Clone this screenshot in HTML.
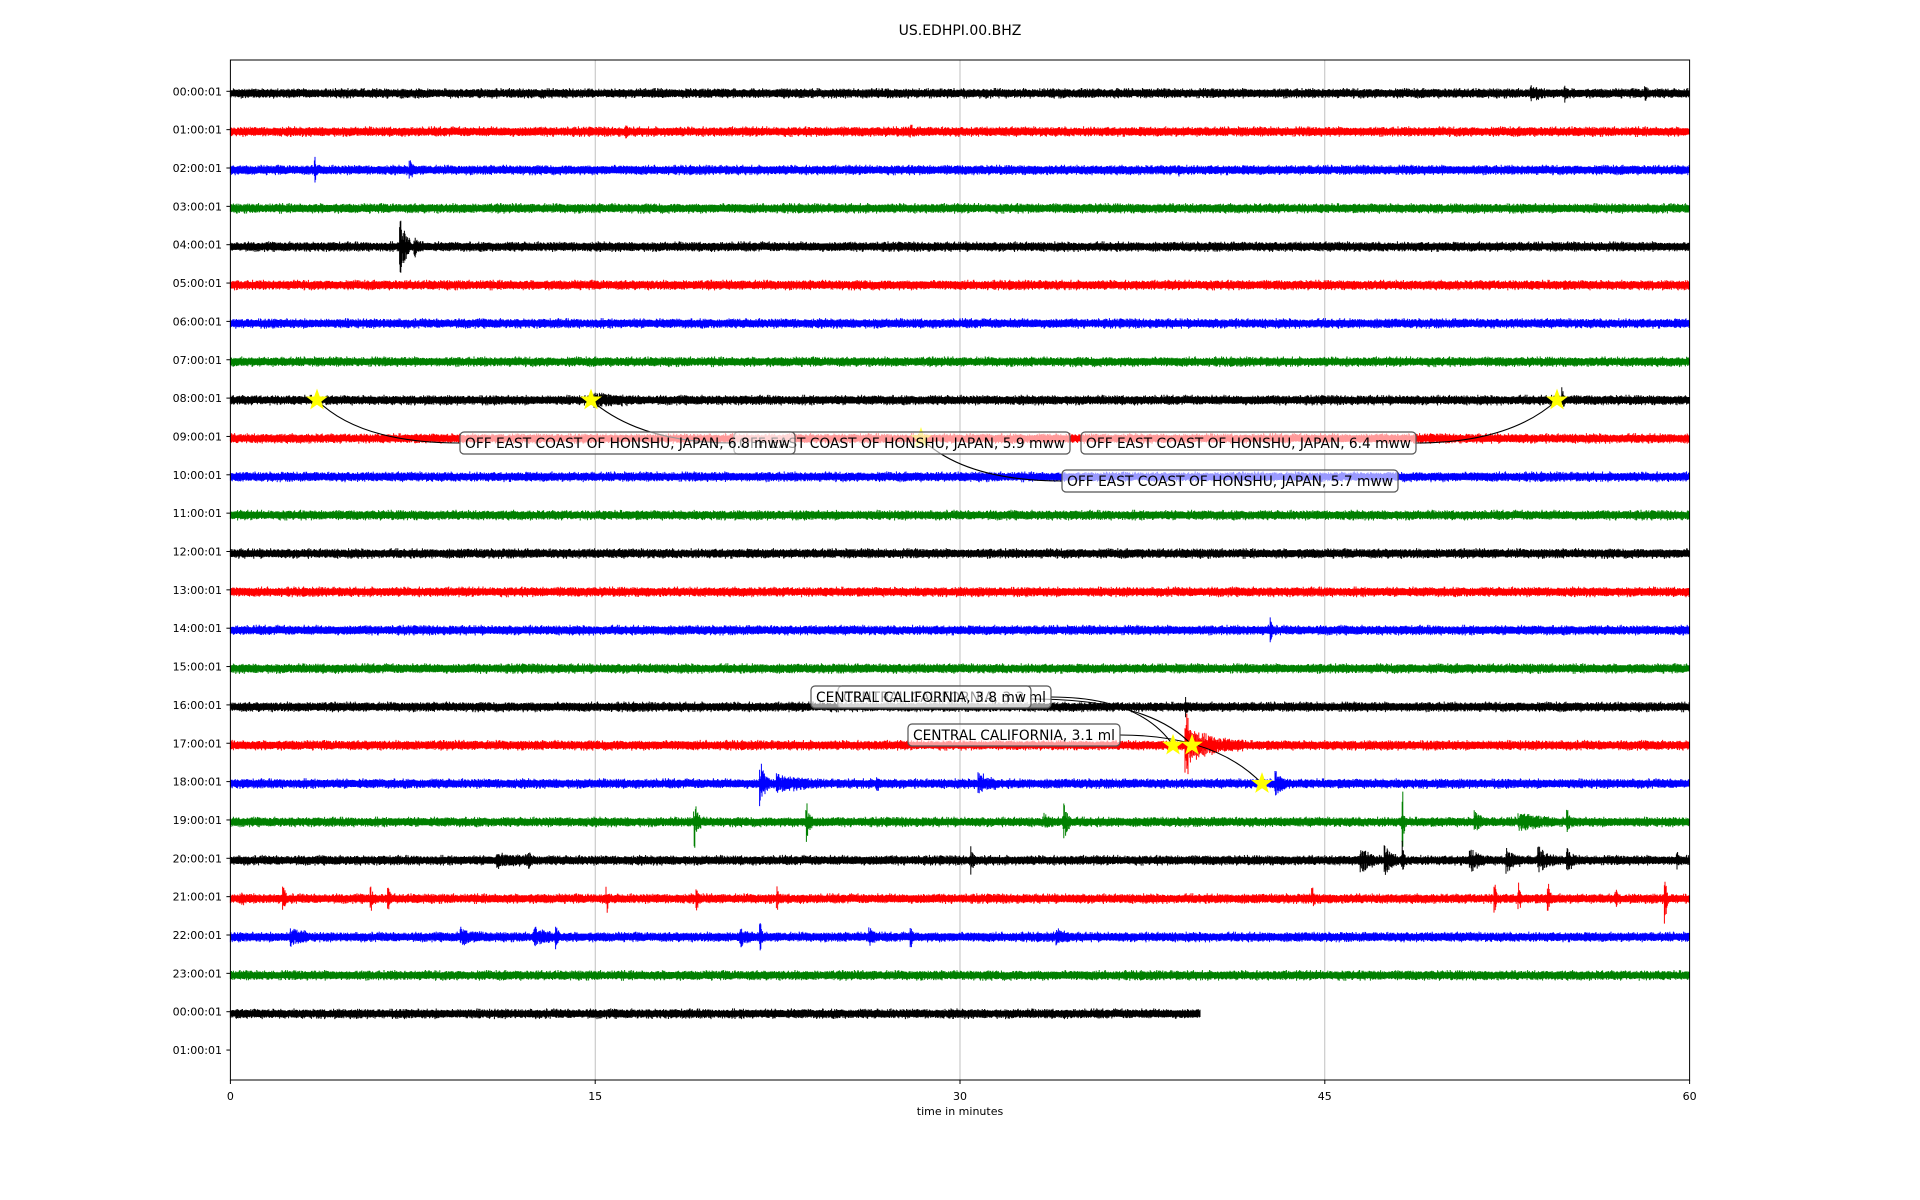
<!DOCTYPE html>
<html><head><meta charset="utf-8"><style>
html,body{margin:0;padding:0;background:#fff;width:1920px;height:1200px;overflow:hidden}
svg{display:block}
text{font-family:"DejaVu Sans","Liberation Sans",sans-serif}
</style></head><body>
<svg id="s" width="1920" height="1200" viewBox="0 0 1920 1200" xmlns="http://www.w3.org/2000/svg">
<rect x="0" y="0" width="1920" height="1200" fill="#fff"/>
<g id="grid" stroke="#b0b0b0" stroke-width="0.8">
<line x1="595.2" y1="60" x2="595.2" y2="1080"/>
<line x1="960" y1="60" x2="960" y2="1080"/>
<line x1="1324.8" y1="60" x2="1324.8" y2="1080"/>
</g>
<g id="traces"></g>
<g id="ann"></g>
<rect x="230.4" y="60" width="1459.2" height="1020" fill="none" stroke="#000" stroke-width="1"/>
<g id="ticks" font-size="11"></g>
<text x="960" y="35" font-size="14" text-anchor="middle">US.EDHPI.00.BHZ</text>
<text x="960" y="1115" font-size="11" text-anchor="middle">time in minutes</text>
</svg>
<script>
var NS="http://www.w3.org/2000/svg";
function el(n,a,p,t){var e=document.createElementNS(NS,n);for(var k in a)e.setAttribute(k,a[k]);if(t!=null)e.textContent=t;p.appendChild(e);return e;}
var seed=12345;function rnd(){seed=(seed*1103515245+12345)%2147483648;return seed/2147483648;}
function gau(){var u=rnd()||1e-6,v=rnd();return Math.sqrt(-2*Math.log(u))*Math.cos(2*Math.PI*v);}
var X0=230.4,W=1459.2,PPM=W/60;
function rowY(i){return 91.3+38.35*i;}
var cols=["#000","#f00","#00f","#008000"];
var labels=[];
for(var i=0;i<26;i++){var h=i%24;labels.push((h<10?"0":"")+h+":00:01");}
var ev=[
[0,53.5,6,0.4],[0,54.9,7,0.05],[0,58.2,6,0.05],
[1,16.3,4,0.05],[1,28.0,5,0.05],
[2,3.5,12,0.05],[2,7.4,7,0.15],[2,39.0,4,0.05],
[4,7.0,32,0.35],[4,7.6,8,0.3],
[8,15.0,5,1.5],[8,54.8,10,0.05],
[14,42.8,10,0.05],
[16,39.3,8,0.05],
[17,39.3,38,0.4],[17,39.6,14,2.0],
[18,21.8,22,0.3],[18,22.5,8,1.2],[18,30.8,10,0.6],[18,43.0,12,0.4],[18,26.6,5,0.1],
[19,19.1,24,0.2],[19,23.7,20,0.2],[19,34.3,20,0.2],[19,33.5,7,0.2],[19,48.2,36,0.05],[19,51.2,10,0.3],[19,53,7,1.5],[19,55,10,0.1],
[20,11,5,1.5],[20,12.3,8,0.05],[20,30.5,16,0.05],[20,46.5,14,0.5],[20,47.5,14,0.4],[20,48.2,20,0.05],[20,51,12,0.5],[20,52.5,12,0.5],[20,53.8,13,0.6],[20,55,10,0.3],[20,59.5,8,0.05],
[21,0.5,8,0.05],[21,2.2,14,0.05],[21,5.8,10,0.05],[21,6.5,14,0.05],[21,15.5,14,0.05],[21,19.2,10,0.05],[21,22.5,12,0.05],[21,44.5,10,0.05],[21,52,14,0.05],[21,53,16,0.05],[21,54.2,14,0.05],[21,59.0,30,0.05],[21,57,6,0.05],
[22,2.5,10,0.6],[22,9.5,8,0.8],[22,12.5,8,0.7],[22,13.4,10,0.1],[22,21,8,0.4],[22,21.8,14,0.05],[22,26.3,8,0.3],[22,28,10,0.05],[22,34,5,0.5]
];
var tg=document.getElementById("traces");
for(var r=0;r<25;r++){
  var c=rowY(r)+2,d="";var end=(r==24)?39.9:60;
  var npx=Math.floor(end*PPM);
  for(var p=0;p<=npx;p+=0.6){
    var m=p/PPM,extra=0;
    for(var k=0;k<ev.length;k++){var e=ev[k];if(e[0]!=r)continue;var dt=m-e[1];
      if(dt>-0.06&&dt<e[3]+0.06){var env=dt<0?1:Math.exp(-dt/(e[3]*0.5+0.02));extra=Math.max(extra,e[2]*env);}}
    var g1=Math.min(Math.abs(gau()),2.5),g2=Math.min(Math.abs(gau()),2.5);
    var t=c-2.6-g1*1.1-(extra>0?rnd()*extra*0.9:0);
    var b=c+2.6+g2*1.1+(extra>0?rnd()*extra*0.9:0);
    var x=(X0+p).toFixed(2);
    d+="M"+x+" "+t.toFixed(1)+"V"+b.toFixed(1);
  }
  el("path",{d:d,stroke:cols[r%4],"stroke-width":"1",fill:"none"},tg);
}
var tk=document.getElementById("ticks");
for(var i=0;i<26;i++){var y=rowY(i);
  el("line",{x1:226.4,y1:y,x2:230.4,y2:y,stroke:"#000","stroke-width":1},tk);
  el("text",{x:222,y:y+4,"text-anchor":"end"},tk,labels[i]);}
[0,15,30,45,60].forEach(function(v,i){var x=X0+v*PPM;
  el("line",{x1:x,y1:1080,x2:x,y2:1084,stroke:"#000","stroke-width":1},tk);
  el("text",{x:x,y:1100,"text-anchor":"middle"},tk,String(v));});
var ag=document.getElementById("ann");
function star(x,y,op){var pts="";for(var i=0;i<10;i++){var rr=i%2?4:10,an=-Math.PI/2+i*Math.PI/5;pts+=(x+rr*Math.cos(an)).toFixed(1)+","+(y+rr*Math.sin(an)).toFixed(1)+" ";}
  el("polygon",{points:pts,fill:"#ffff00",stroke:"#ffff00","stroke-width":1,opacity:op||1},ag);}
function curve(d){el("path",{d:d,stroke:"#000","stroke-width":1.1,fill:"none"},ag);}
function box(x1,y1,x2,y2,txt){
  el("rect",{x:x1,y:y1,width:x2-x1,height:y2-y1,rx:4,fill:"#fff","fill-opacity":0.6,stroke:"#555","stroke-width":1.2},ag);
  el("text",{x:x1+5,y:(y1+y2)/2+5,"font-size":14,textLength:(x2-x1-10),lengthAdjust:"spacingAndGlyphs"},ag,txt);}
var y8=rowY(8)+2,y9=rowY(9)+2,y17=rowY(17)+2,y18=rowY(18)+2;
curve("M317 "+y8+" Q360 443 460 443");
curve("M591 "+y8+" Q640 443 734 443");
curve("M1557 "+y8+" Q1510 443 1416 443");
curve("M921 "+y9+" Q965 481 1062 481");
star(317,y8);star(591,y8);star(1557,y8);star(921,y9,0.7);
box(734,432,1070,454,"OFF EAST COAST OF HONSHU, JAPAN, 5.9 mww");
box(460,432,795,454,"OFF EAST COAST OF HONSHU, JAPAN, 6.8 mww");
box(1081,432,1416,454,"OFF EAST COAST OF HONSHU, JAPAN, 6.4 mww");
box(1062,470,1398,492,"OFF EAST COAST OF HONSHU, JAPAN, 5.7 mww");
curve("M1051 697 Q1140 697 1173 "+y17);
curve("M1031 699 Q1150 699 1192 "+y17);
curve("M1120 735 Q1215 735 1262 "+y18);
star(1173,y17);star(1192,y17);star(1262,y18);
box(838,686,1051,708,"CENTRAL CALIFORNIA, 3.3 ml");
box(811,686,1031,708,"CENTRAL CALIFORNIA, 3.8 mw");
box(908,724,1120,746,"CENTRAL CALIFORNIA, 3.1 ml");
</script>
</body></html>
